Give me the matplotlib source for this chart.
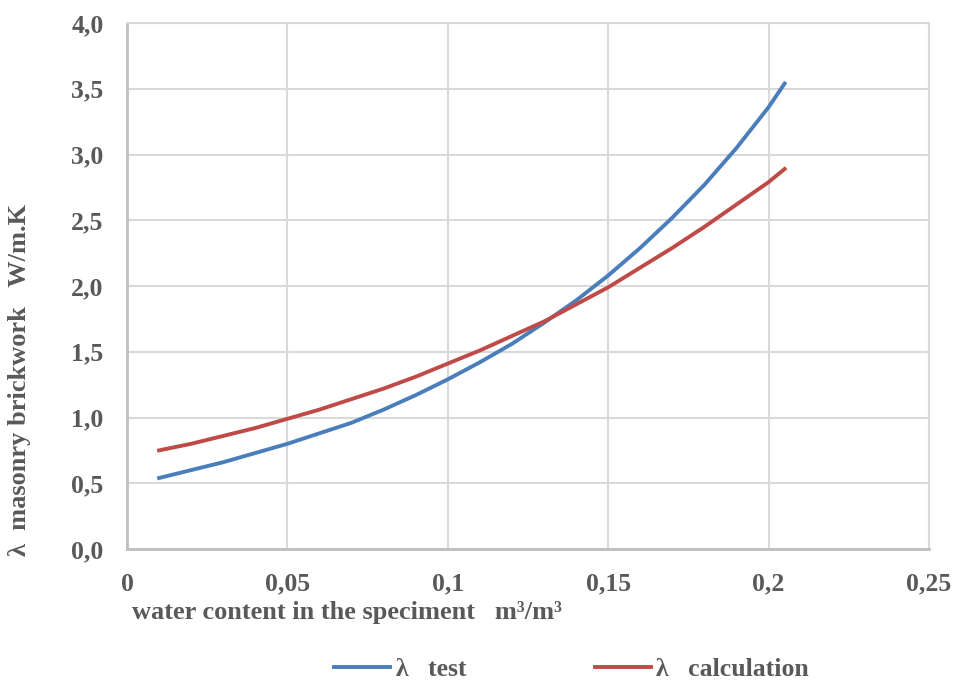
import numpy as np
import matplotlib
matplotlib.use("Agg")
import matplotlib.pyplot as plt
from matplotlib.ticker import FuncFormatter

# values
water_content = [0.01, 0.02, 0.03, 0.04, 0.05, 0.06, 0.07, 0.08, 0.09, 0.10, 0.11,
                 0.12, 0.13, 0.14, 0.15, 0.16, 0.17, 0.18, 0.19, 0.20, 0.205]
lambda_test = [0.54, 0.60, 0.66, 0.73, 0.80, 0.88, 0.96, 1.06, 1.17, 1.29, 1.42,
               1.56, 1.72, 1.89, 2.08, 2.29, 2.52, 2.77, 3.05, 3.36, 3.54]
lambda_calc = [0.75, 0.80, 0.86, 0.92, 0.99, 1.06, 1.14, 1.22, 1.31, 1.41, 1.51,
               1.62, 1.73, 1.86, 1.99, 2.14, 2.29, 2.45, 2.62, 2.79, 2.89]
series_names = ["λ   test", "λ   calculation"]
x_ticks = [0, 0.05, 0.1, 0.15, 0.2, 0.25]
y_ticks = [0.0, 0.5, 1.0, 1.5, 2.0, 2.5, 3.0, 3.5, 4.0]

txt = "#595959"
plt.rcParams["font.family"] = ["Liberation Serif", "DejaVu Serif"]
plt.rcParams["font.weight"] = "bold"

fig = plt.figure(figsize=(9.54, 6.8), dpi=100)
ax = fig.add_axes([127 / 954, 1 - 549 / 680, (929 - 127) / 954, (549 - 23) / 680])

ax.plot(water_content, lambda_test, color="#4A7EBB", lw=2.8, label=series_names[0],
        solid_joinstyle="round")
ax.plot(water_content, lambda_calc, color="#BE4B48", lw=2.8, label=series_names[1],
        solid_joinstyle="round")

ax.set_xlim(0, 0.25)
ax.set_ylim(0, 4.0)
ax.set_xticks(x_ticks)
ax.set_yticks(y_ticks)
ax.xaxis.set_major_formatter(FuncFormatter(lambda v, p: ("%g" % v).replace(".", ",")))
ax.yaxis.set_major_formatter(FuncFormatter(lambda v, p: ("%.1f" % v).replace(".", ",")))
ax.tick_params(length=0, labelsize=18.5, colors=txt, labelcolor=txt)
ax.tick_params(axis="x", pad=17)
ax.tick_params(axis="y", pad=17)

ax.grid(True, color="#D9D9D9", lw=1.5)
ax.set_axisbelow(True)
for s in ["top", "right"]:
    ax.spines[s].set_color("#D9D9D9")
    ax.spines[s].set_linewidth(1.5)
for s in ["left", "bottom"]:
    ax.spines[s].set_color("#BFBFBF")
    ax.spines[s].set_linewidth(2)

fig.text(132 / 954, 1 - 613 / 680, "water content in the speciment   m³/m³",
         ha="left", va="center", fontsize=19, color=txt, fontweight="bold")
fig.text(20 / 954, 1 - 380 / 680, "λ  masonry brickwork   W/m.K",
         ha="center", va="center", rotation=90, fontsize=19, color=txt, fontweight="bold")

fig.legend(loc="center", bbox_to_anchor=(0.599, 1 - 669 / 680), ncol=2, frameon=False,
           fontsize=18.5, labelcolor=txt, handlelength=2.2, handletextpad=0.2,
           columnspacing=5.0)

fig.savefig("out.png", dpi=100)
